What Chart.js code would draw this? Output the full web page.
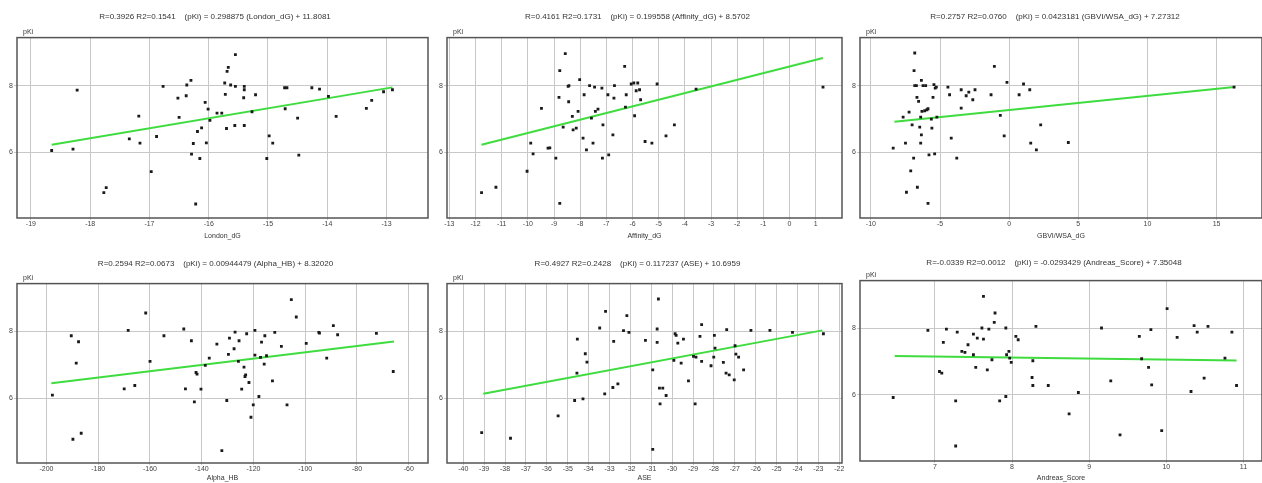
<!DOCTYPE html>
<html lang="en">
<head>
<meta charset="utf-8">
<title>pKi correlations</title>
<script src="https://cdn.jsdelivr.net/npm/chart.js@4/dist/chart.umd.min.js"></script>
<style>
body { margin: 0; background: #fff; width: 1262px; height: 483px; overflow: hidden; position: relative; }
.panel { position: absolute; }
</style>
</head>
<body>
<canvas id="c1" class="panel" width="432" height="242" style="left:0;top:0"></canvas>
<canvas id="c2" class="panel" width="414" height="242" style="left:432px;top:0"></canvas>
<canvas id="c3" class="panel" width="420" height="242" style="left:846px;top:0"></canvas>
<canvas id="c4" class="panel" width="432" height="241" style="left:0;top:242px"></canvas>
<canvas id="c5" class="panel" width="414" height="241" style="left:432px;top:242px"></canvas>
<canvas id="c6" class="panel" width="420" height="241" style="left:846px;top:242px"></canvas>

<script>
// London_dG
var londonX = [-18.65,-18.29,-18.22,-17.77,-17.73,-17.34,-17.18,-17.16,-16.97,-16.88,-16.77,-16.52,-16.50,-16.38,-16.37,-16.30,-16.29,-16.26,-16.22,-16.19,-16.15,-16.12,-16.06,-16.04,-16.01,-15.98,-15.86,-15.78,-15.73,-15.72,-15.70,-15.69,-15.67,-15.63,-15.56,-15.55,-15.55,-15.40,-15.40,-15.41,-15.40,-15.27,-15.21,-15.02,-14.98,-14.92,-14.72,-14.68,-14.71,-14.50,-14.48,-14.26,-14.13,-13.98,-13.85,-13.34,-13.25,-13.05,-12.90];
var londonPKi = [6.06,6.10,7.87,4.80,4.95,6.41,7.09,6.28,5.43,6.48,7.98,7.63,7.05,7.70,8.02,8.16,5.95,6.27,4.46,6.63,5.82,6.74,7.50,6.29,7.30,6.96,7.18,7.18,8.08,7.74,6.72,8.43,8.55,8.02,6.81,8.93,7.98,7.98,7.88,7.64,6.81,7.22,7.73,5.82,6.50,6.28,7.94,7.94,7.31,7.03,5.92,7.94,7.90,7.68,7.08,7.32,7.56,7.82,7.88];
var londonFitX = [-18.65, -12.90];
var londonFitY = [6.23, 7.95];
var londonTicks = [-19,-18,-17,-16,-15,-14,-13];

// Affinity_dG
var affinityX = [-11.77,-11.22,-10.03,-9.89,-9.80,-9.48,-9.23,-9.16,-8.93,-8.81,-8.78,-8.78,-8.65,-8.57,-8.46,-8.44,-8.43,-8.30,-8.27,-8.15,-8.08,-8.02,-7.89,-7.85,-7.76,-7.64,-7.57,-7.51,-7.45,-7.42,-7.32,-7.17,-7.13,-7.15,-6.94,-6.91,-6.75,-6.71,-6.69,-6.30,-6.24,-6.27,-6.05,-5.95,-5.92,-5.86,-5.80,-5.73,-5.69,-5.52,-5.26,-5.06,-4.72,-4.40,-3.57,1.28];
var affinityPKi = [4.80,4.96,5.44,6.28,5.96,7.32,6.13,6.14,5.83,7.65,8.45,4.48,6.76,8.96,7.98,7.52,8.00,7.08,6.68,6.73,7.23,8.18,6.43,7.73,6.08,8.00,7.03,6.28,7.96,7.23,7.30,7.93,6.83,5.83,7.73,5.93,6.53,7.63,8.00,8.58,7.73,7.36,8.05,8.08,7.10,7.85,8.08,7.88,7.58,6.33,6.28,8.05,6.50,6.83,7.90,7.96];
var affinityFitX = [-11.77, 1.28];
var affinityFitY = [6.23, 8.83];
var affinityTicks = [-13,-12,-11,-10,-9,-8,-7,-6,-5,-4,-3,-2,-1,0,1];

// GBVI/WSA_dG
var gbviX = [-8.39,-7.67,-7.50,-7.43,-7.24,-7.12,-7.02,-6.91,-6.83,-6.88,-6.83,-6.71,-6.67,-6.64,-6.55,-6.47,-6.40,-6.40,-6.35,-6.35,-6.23,-6.31,-6.11,-6.04,-5.95,-5.87,-5.87,-5.80,-5.63,-5.59,-5.51,-5.44,-5.39,-5.35,-5.27,-5.23,-4.43,-4.31,-4.19,-3.79,-3.47,-3.47,-3.11,-2.92,-2.63,-2.47,-1.31,-1.07,-0.64,-0.36,-0.16,0.72,1.04,1.49,1.56,1.97,2.28,4.28,16.27];
var gbviPKi = [6.13,7.06,6.28,4.81,7.21,5.45,6.83,5.83,8.98,8.45,8.00,8.00,7.65,4.96,7.53,6.76,6.28,7.06,8.16,6.53,8.00,7.23,7.25,8.00,7.28,4.48,7.31,5.93,7.00,6.73,7.65,8.03,5.96,7.93,7.96,7.06,7.96,7.73,6.43,5.83,7.33,7.88,7.70,7.81,7.58,7.88,7.73,8.58,7.11,6.50,8.10,7.73,8.05,7.88,6.28,6.08,6.83,6.30,7.96];
var gbviFitX = [-8.3, 16.3];
var gbviFitY = [6.92, 7.96];
var gbviTicks = [-10,-5,0,5,10,15];

// Alpha_HB
var alphaX = [-197.70,-190.41,-189.77,-188.49,-187.60,-186.57,-169.95,-168.41,-165.86,-161.64,-159.97,-154.60,-146.93,-146.29,-143.99,-142.84,-142.20,-141.81,-140.28,-138.62,-137.08,-134.14,-132.22,-130.31,-129.67,-129.28,-127.49,-127.11,-125.83,-125.57,-124.55,-123.66,-123.27,-123.02,-122.63,-121.74,-120.97,-120.07,-119.44,-119.44,-117.90,-117.26,-116.88,-115.85,-115.60,-114.96,-112.66,-111.76,-109.21,-107.03,-105.37,-103.45,-99.61,-94.75,-94.50,-91.69,-89.13,-87.47,-72.50,-65.98];
var alphaPKi = [6.09,7.87,4.77,7.05,7.69,4.95,6.28,8.03,6.38,8.55,7.10,7.87,8.07,6.28,7.72,5.89,6.77,6.72,6.27,6.98,7.20,7.62,4.43,5.93,7.31,7.80,7.48,7.98,7.10,7.72,6.27,6.93,6.65,6.70,7.93,6.47,5.43,5.80,8.03,7.29,6.05,7.22,7.68,7.02,7.87,7.27,6.52,7.97,7.55,5.80,8.95,8.43,7.64,7.97,7.95,7.20,8.17,7.90,7.94,6.80];
var alphaFitX = [-198.1, -65.7];
var alphaFitY = [6.45, 7.70];
var alphaTicks = [-200,-180,-160,-140,-120,-100,-80,-60];

// ASE
var aseX = [-39.12,-37.74,-35.46,-34.67,-34.56,-34.54,-34.27,-34.16,-34.08,-33.47,-33.23,-33.19,-32.84,-32.80,-32.60,-32.33,-32.17,-32.07,-31.28,-30.93,-30.93,-30.72,-30.72,-30.66,-30.61,-30.58,-30.45,-30.29,-29.92,-29.86,-29.81,-29.73,-29.57,-29.46,-29.22,-28.98,-28.90,-28.86,-28.67,-28.59,-28.59,-28.14,-28.01,-27.95,-27.98,-27.55,-27.42,-27.39,-27.27,-27.03,-26.99,-26.95,-26.82,-26.58,-26.23,-25.32,-24.24,-22.76];
var asePKi = [4.97,4.80,5.47,5.93,6.75,7.77,5.98,7.33,7.08,8.10,6.13,8.60,6.32,7.70,6.43,8.02,8.47,7.97,7.73,6.85,4.47,8.07,7.67,8.97,6.30,5.83,6.30,6.08,7.13,7.93,7.88,7.65,7.05,7.77,6.52,7.25,5.83,7.23,7.85,8.20,7.10,6.97,7.23,7.50,7.88,7.07,6.75,8.05,6.70,6.55,7.57,7.32,7.23,6.85,8.03,8.03,7.97,7.93];
var aseFitX = [-39.04, -22.81];
var aseFitY = [6.13, 8.03];
var aseTicks = [-40,-39,-38,-37,-36,-35,-34,-33,-32,-31,-30,-29,-28,-27,-26,-25,-24,-23,-22];

// Andreas_Score
var andreasX = [6.46,6.91,7.06,7.09,7.11,7.15,7.27,7.27,7.29,7.35,7.39,7.43,7.50,7.50,7.53,7.55,7.61,7.63,7.63,7.68,7.70,7.74,7.77,7.78,7.84,7.92,7.92,7.93,7.96,7.97,7.99,8.05,8.08,8.26,8.27,8.27,8.31,8.47,8.74,8.86,9.16,9.28,9.40,9.65,9.68,9.77,9.80,9.81,9.94,10.01,10.14,10.32,10.36,10.40,10.49,10.54,10.76,10.85,10.91];
var andreasPKi = [5.92,7.93,6.70,6.65,7.57,7.97,5.82,4.47,7.88,7.30,7.27,7.50,7.20,7.82,6.82,7.70,8.00,7.67,8.95,6.75,7.97,7.05,8.17,8.45,5.82,8.00,5.95,7.20,7.30,7.10,6.97,7.75,7.65,6.52,7.02,6.28,8.05,6.28,5.43,6.07,8.00,6.42,4.80,7.75,7.08,6.82,7.95,6.30,4.93,8.58,7.72,6.10,8.07,7.88,6.50,8.05,7.10,7.88,6.28];
var andreasFitX = [6.48, 10.91];
var andreasFitY = [7.16, 7.03];
var andreasTicks = [7,8,9,10,11];

var pkiTicks = [6, 8];

var titles = [
    'R=0.3926 R2=0.1541    (pKi) = 0.298875 (London_dG) + 11.8081',
    'R=0.4161 R2=0.1731    (pKi) = 0.199558 (Affinity_dG) + 8.5702',
    'R=0.2757 R2=0.0760    (pKi) = 0.0423181 (GBVI/WSA_dG) + 7.27312',
    'R=0.2594 R2=0.0673    (pKi) = 0.00944479 (Alpha_HB) + 8.32020',
    'R=0.4927 R2=0.2428    (pKi) = 0.117237 (ASE) + 10.6959',
    'R=-0.0339 R2=0.0012    (pKi) = -0.0293429 (Andreas_Score) + 7.35048'
];

function points(xs, ys) {
    return xs.map(function(x, i) { return {x: x, y: ys[i]}; });
}

// box round the plot and the pKi label above it
var framePlugin = {
    id: 'frame',
    afterDraw: function(chart) {
        var a = chart.chartArea, ctx = chart.ctx;
        ctx.save();
        ctx.strokeStyle = '#555';
        ctx.lineWidth = 1.5;
        ctx.strokeRect(a.left, a.top, a.right - a.left, a.bottom - a.top);
        ctx.fillStyle = '#333';
        ctx.font = '7px "Liberation Sans"';
        ctx.textBaseline = 'bottom';
        ctx.fillText('pKi', a.left + 6, a.top - 2);
        ctx.restore();
    }
};

function makeChart(id, p) {
    new Chart(document.getElementById(id), {
        type: 'scatter',
        data: {datasets: [
            {data: points(p.xs, p.ys), pointStyle: 'rect', pointRadius: 2, backgroundColor: '#1a1a1a', borderWidth: 0, order: 0},
            {data: points(p.fx, p.fy), showLine: true, borderColor: '#3fdc3f', borderWidth: 2, pointRadius: 0, fill: false, order: 1}
        ]},
        options: {
            responsive: false,
            animation: false,
            layout: {padding: {left: 0, right: p.padRight, top: 0, bottom: 0}},
            plugins: {
                legend: {display: false},
                tooltip: {enabled: false},
                title: {display: true, text: p.title, color: '#333',
                        font: {size: 8, family: 'Liberation Sans', weight: 'normal'}, padding: p.titlePad}
            },
            scales: {
                x: {
                    type: 'linear', min: p.xMin, max: p.xMax,
                    afterBuildTicks: function(s) { s.ticks = p.ticks.map(function(v) { return {value: v}; }); },
                    afterFit: function(s) { s.height = p.xHeight; },
                    grid: {color: '#c8c8c8', tickLength: 2},
                    border: {display: false},
                    ticks: {color: '#444', font: {size: 7, family: 'Liberation Sans'}, padding: 0, maxRotation: 0, autoSkip: false},
                    title: {display: true, text: p.xLabel, color: '#333', font: {size: 7, family: 'Liberation Sans'},
                            padding: {top: 0, bottom: p.xTitlePad}}
                },
                y: {
                    type: 'linear', min: p.yMin, max: p.yMax,
                    afterBuildTicks: function(s) { s.ticks = pkiTicks.map(function(v) { return {value: v}; }); },
                    afterFit: function(s) { s.width = p.yWidth; },
                    grid: {color: '#c8c8c8', tickLength: 3},
                    border: {display: false},
                    ticks: {color: '#444', font: {size: 7, family: 'Liberation Sans'}, padding: 1}
                }
            }
        },
        plugins: [framePlugin]
    });
}

var topPad = {top: 12, bottom: 16};
var lowPad = {top: 17, bottom: 15};

makeChart('c1', {xs: londonX, ys: londonPKi, fx: londonFitX, fy: londonFitY, ticks: londonTicks,
    xMin: -19.235, xMax: -12.30, yMin: 4.04, yMax: 9.44, title: titles[0], xLabel: 'London_dG',
    yWidth: 17, padRight: 2, titlePad: topPad, xHeight: 24, xTitlePad: 2});
makeChart('c2', {xs: affinityX, ys: affinityPKi, fx: affinityFitX, fy: affinityFitY, ticks: affinityTicks,
    xMin: -13.09, xMax: 2.006, yMin: 4.04, yMax: 9.44, title: titles[1], xLabel: 'Affinity_dG',
    yWidth: 15, padRight: 3, titlePad: topPad, xHeight: 24, xTitlePad: 2});
makeChart('c3', {xs: gbviX, ys: gbviPKi, fx: gbviFitX, fy: gbviFitY, ticks: gbviTicks,
    xMin: -10.79, xMax: 18.29, yMin: 4.04, yMax: 9.44, title: titles[2], xLabel: 'GBVI/WSA_dG',
    yWidth: 14, padRight: 2, titlePad: topPad, xHeight: 24, xTitlePad: 2});
makeChart('c4', {xs: alphaX, ys: alphaPKi, fx: alphaFitX, fy: alphaFitY, ticks: alphaTicks,
    xMin: -211.38, xMax: -52.55, yMin: 4.06, yMax: 9.43, title: titles[3], xLabel: 'Alpha_HB',
    yWidth: 17, padRight: 1, titlePad: lowPad, xHeight: 20, xTitlePad: 1});
makeChart('c5', {xs: aseX, ys: asePKi, fx: aseFitX, fy: aseFitY, ticks: aseTicks,
    xMin: -40.78, xMax: -21.87, yMin: 4.06, yMax: 9.43, title: titles[4], xLabel: 'ASE',
    yWidth: 15, padRight: 3, titlePad: lowPad, xHeight: 20, xTitlePad: 1});
makeChart('c6', {xs: andreasX, ys: andreasPKi, fx: andreasFitX, fy: andreasFitY, ticks: andreasTicks,
    xMin: 6.03, xMax: 11.24, yMin: 4.02, yMax: 9.42, title: titles[5], xLabel: 'Andreas_Score',
    yWidth: 14, padRight: 4, titlePad: {top: 16, bottom: 13}, xHeight: 22, xTitlePad: 1});
</script>
</body>
</html>
